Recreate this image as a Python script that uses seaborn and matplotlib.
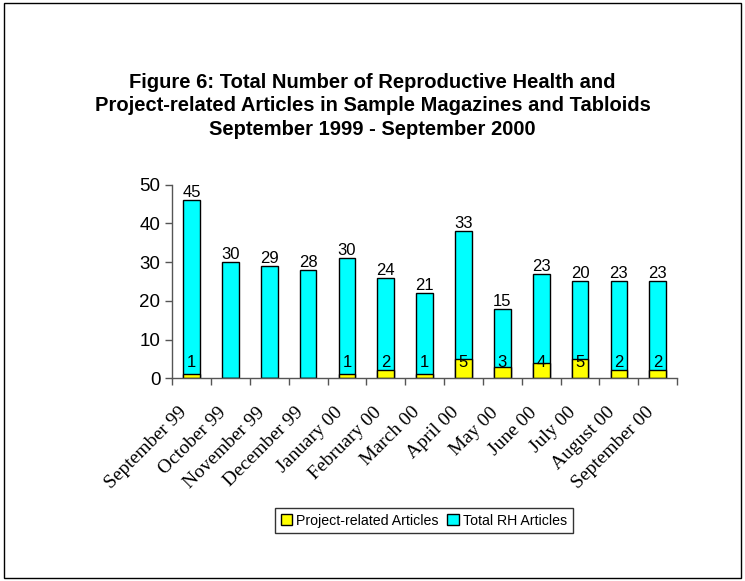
import pandas as pd
import matplotlib
matplotlib.use("Agg")
import matplotlib.pyplot as plt
import matplotlib.transforms as mtransforms
from matplotlib.patches import Patch, Rectangle
import seaborn as sns

months = ["September 99", "October 99", "November 99", "December 99",
          "January 00", "February 00", "March 00", "April 00", "May 00",
          "June 00", "July 00", "August 00", "September 00"]
project_articles = [1, 0, 0, 0, 1, 2, 1, 5, 3, 4, 5, 2, 2]
rh_articles = [45, 30, 29, 28, 30, 24, 21, 33, 15, 23, 20, 23, 23]

YELLOW = "#FFFF00"
CYAN = "#00FFFF"


def main():
    df = pd.DataFrame({"month": months,
                       "project": project_articles,
                       "rh": rh_articles})
    df["total"] = df["project"] + df["rh"]

    sns.set_style("white")
    plt.rcParams["font.family"] = ["Liberation Sans", "DejaVu Sans"]
    for key in ["text.color", "axes.labelcolor", "xtick.color", "ytick.color"]:
        plt.rcParams[key] = "black"

    fig = plt.figure(figsize=(7.45, 5.81), dpi=100)
    ax = fig.add_axes([0.231, 0.349, 0.678, 0.333])

    # stacked bars: total (cyan) behind, project (yellow) in front
    sns.barplot(data=df, x="month", y="total", order=months, color=CYAN,
                width=0.43, edgecolor="black", linewidth=1, saturation=1,
                ax=ax)
    sns.barplot(data=df, x="month", y="project", order=months, color=YELLOW,
                width=0.43, edgecolor="black", linewidth=1, saturation=1,
                ax=ax)

    for i, row in df.iterrows():
        ax.text(i, row["total"], str(row["rh"]), ha="center", va="bottom",
                fontsize=12)
        if row["project"] > 0:
            ax.text(i, 4.1, str(row["project"]), ha="center", va="center",
                    fontsize=12)

    ax.set_xlim(-0.5, len(months) - 0.5)
    ax.set_ylim(0, 50)
    ax.set_yticks(range(0, 51, 10))
    ax.tick_params(axis="y", labelsize=13.5, length=5, width=1,
                   direction="out", left=True, labelcolor="black",
                   color="#555555")
    ax.set_xticks(range(len(months)))
    ax.set_xticklabels(months, rotation=45, ha="right",
                       rotation_mode="anchor", family="Liberation Serif",
                       fontsize=14)
    ax.tick_params(axis="x", length=0, pad=12, labelcolor="black")
    shift = mtransforms.ScaledTranslation(-13 / 100, -9 / 100, fig.dpi_scale_trans)
    for lbl in ax.get_xticklabels():
        lbl.set_transform(lbl.get_transform() + shift)
    ax.set_xticks([i - 0.5 for i in range(len(months) + 1)], minor=True)
    ax.tick_params(axis="x", which="minor", length=5, width=1,
                   direction="out", bottom=True, color="#555555")
    ax.set_xlabel("")
    ax.set_ylabel("")

    for side in ["top", "right"]:
        ax.spines[side].set_visible(False)
    for side in ["left", "bottom"]:
        ax.spines[side].set_color("#555555")
        ax.spines[side].set_linewidth(1)

    fig.text(0.5, 0.818,
             "Figure 6: Total Number of Reproductive Health and\n"
             "Project-related Articles in Sample Magazines and Tabloids\n"
             "September 1999 - September 2000",
             ha="center", va="center", fontsize=14.5, fontweight="bold",
             linespacing=1.3, color="black")

    handles = [Patch(facecolor=YELLOW, edgecolor="black", label="Project-related Articles"),
               Patch(facecolor=CYAN, edgecolor="black", label="Total RH Articles")]
    leg = fig.legend(handles=handles, loc="center", bbox_to_anchor=(0.569, 0.104),
                     ncol=2, fontsize=10.2, frameon=True, fancybox=False,
                     edgecolor="black", handlelength=0.8, handleheight=0.8,
                     handletextpad=0.3, columnspacing=0.6, borderpad=0.4)
    leg.get_frame().set_linewidth(1)

    fig.patches.append(Rectangle((0.005, 0.005), 0.99, 0.99, fill=False,
                                 edgecolor="black", linewidth=1,
                                 transform=fig.transFigure, figure=fig))

    fig.savefig("out.png", dpi=100)
    plt.close(fig)


if __name__ == "__main__":
    main()
